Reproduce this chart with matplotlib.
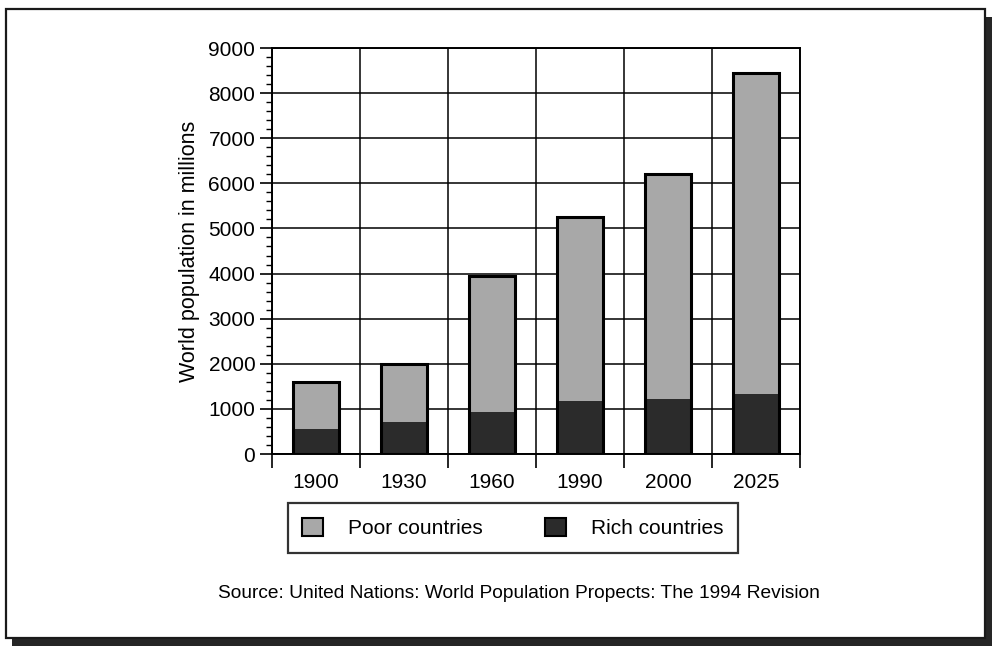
import numpy as np
import matplotlib.pyplot as plt
from matplotlib.patches import Rectangle, Patch
from matplotlib.ticker import MultipleLocator

plt.rcParams['font.family'] = ['Liberation Sans', 'DejaVu Sans']

years = ['1900', '1930', '1960', '1990', '2000', '2025']
total = [1600, 2000, 3950, 5250, 6200, 8450]
rich = [550, 700, 920, 1170, 1220, 1320]
poor = [t - r for t, r in zip(total, rich)]

poor_col = '#a8a8a8'
rich_col = '#2b2b2b'

fig = plt.figure(figsize=(9.92, 6.53), dpi=100)
W, H = 992, 653

def px(x0, y0, x1, y1):
    # pixel box (top-left origin) -> figure fraction rect
    return (x0 / W, 1 - y1 / H, (x1 - x0) / W, (y1 - y0) / H)

# page frame with drop shadow
l, b, w, h = px(12, 17, 992, 646)
fig.patches.append(Rectangle((l, b), w, h, transform=fig.transFigure,
                             facecolor='#262626', edgecolor='none', zorder=0))
l, b, w, h = px(6, 9, 985, 638)
fig.patches.append(Rectangle((l, b), w, h, transform=fig.transFigure,
                             facecolor='white', edgecolor='#1a1a1a', lw=1.6, zorder=1))

ax = fig.add_axes(px(272, 48, 800, 454))
ax.set_zorder(2)
ax.patch.set_alpha(0)

x = np.arange(len(years))
ax.bar(x, rich, width=0.52, color=rich_col, edgecolor='none', zorder=3)
ax.bar(x, poor, width=0.52, bottom=rich, color=poor_col, edgecolor='none', zorder=3)
ax.bar(x, total, width=0.52, fill=False, edgecolor='black', lw=2.2, zorder=4)

ax.set_xlim(-0.5, len(years) - 0.5)
ax.set_ylim(0, 9000)

ax.yaxis.set_major_locator(MultipleLocator(1000))
ax.yaxis.set_minor_locator(MultipleLocator(200))
ax.set_xticks(np.arange(len(years) + 1) - 0.5)
ax.set_xticklabels([])
ax.set_xticks(x, minor=True)
ax.set_xticklabels(years, minor=True)

ax.tick_params(axis='y', which='major', length=9, width=1.2, labelsize=15, pad=3)
ax.tick_params(axis='y', which='minor', length=4, width=1)
ax.tick_params(axis='x', which='major', length=10, width=1.2)
ax.tick_params(axis='x', which='minor', length=0, labelsize=15, pad=14)

ax.grid(True, which='major', color='black', lw=1.1, zorder=1)
for s in ax.spines.values():
    s.set_linewidth(1.4)

ax.set_ylabel('World population in millions', fontsize=15.5, labelpad=6)

handles = [Patch(facecolor=poor_col, edgecolor='black', lw=1.5, label='Poor countries'),
           Patch(facecolor=rich_col, edgecolor='black', lw=1.5, label='Rich countries')]
leg = fig.legend(handles=handles, loc='center', bbox_to_anchor=(513 / W, 1 - 528 / H),
                 ncol=2, fontsize=15, frameon=True, fancybox=False,
                 edgecolor='black', handlelength=1.0, handleheight=1.0,
                 handletextpad=1.2, columnspacing=3.0, borderpad=0.7,
                 borderaxespad=0)
leg.get_frame().set_linewidth(1.6)
leg.set_zorder(5)

fig.text(519 / W, 1 - 593 / H,
         'Source: United Nations: World Population Propects: The 1994 Revision',
         ha='center', va='center', fontsize=13.8, zorder=5)

fig.savefig('out.png', dpi=100)
